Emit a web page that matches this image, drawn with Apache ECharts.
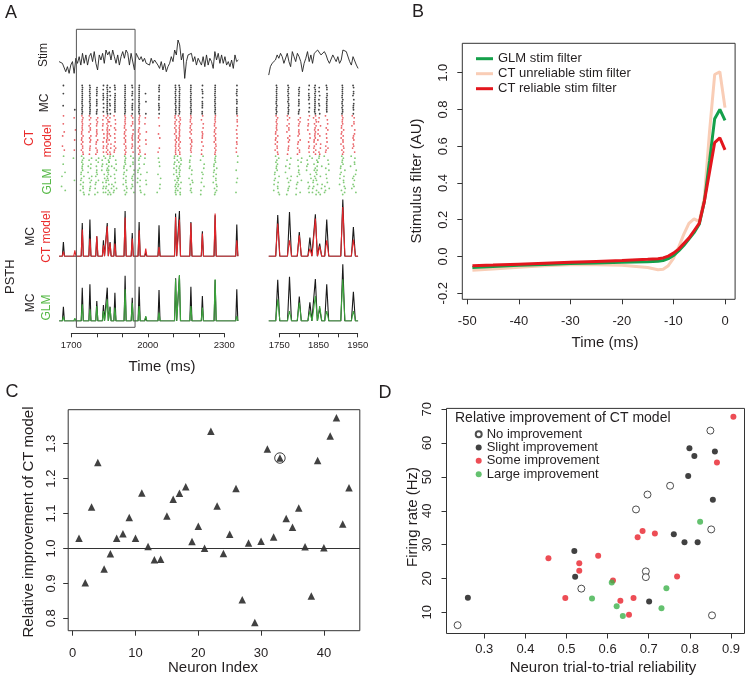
<!DOCTYPE html>
<html><head><meta charset="utf-8">
<script src="https://cdn.jsdelivr.net/npm/echarts@6/dist/echarts.min.js"></script>
<style>html,body{margin:0;padding:0;background:#fff}#c{width:750px;height:681px}</style>
</head><body><div id="c"></div>
<script>
// ================= DATA =================
// Panel A: stimulus trace (arbitrary units), sampled evenly over each window (ms)
const stimLeftSpan = [1652, 2355];
const stimLeft = [0.13,0.25,0,0.13,-0.63,-0.25,-0.75,-0.13,0.13,-0.75,0.38,0,0.5,-0.13,0.75,0,0.63,-0.13,0.5,0.75,0.13,0.88,0,-0.5,0.63,0.25,0.75,0,1.0,0.63,0.88,0.25,1.0,0.5,0,0.63,-0.13,0.5,0.88,0.38,1.0,0.75,-0.13,0.75,0.88,-0.5,0.75,0.63,0.25,0.5,0.13,0.38,0,0.13,-0.13,0.38,0,0.25,0.13,-0.13,-0.38,0.13,-0.5,0,-0.63,-0.25,0,0.5,0.13,1.0,0.63,1.75,1.38,0.25,0.75,-1.13,0.13,0.63,0.5,0.75,0.13,0.5,-0.13,0.38,0.25,-0.13,0.5,-0.25,0.63,-0.13,0.38,0.13,-0.38,0.88,0.25,0.75,0,0.63,0,0.5,-0.13,0.13,-0.25,0.25,-0.38,0.63,0.13,0.25];
const stimRightSpan = [1723, 1951];
const stimRight = [-0.88,-0.25,0,0.13,0.25,0.63,0.38,0.75,0.5,0,-0.13,0.75,0.13,-0.25,0.88,0.5,0.13,0.75,0.5,0.13,-0.63,0,0.38,0.88,0.13,0.63,0,0.75,0.88,1.0,1.13,0.63,0.5,0.88,0.63,0.25,0,0.13,0.63,0.38,0.13,0.5,0,0.25,1.0,0.88,0.88,0.75,0.13,-0.13,0.5,0.38,-0.13,-0.38];

// PSTH peaks: [time (ms), MC rate, CT model rate, GLM rate]
const psthLeftPeaks = [
 [1669,43,14,13],[1714,5,18,8],[1743,100,80,50],[1773,110,53,35],[1800,60,60,45],
 [1826,48,33,30],[1841,100,90,65],[1852,43,40,40],[1871,85,38,40],[1911,136,116,95],
 [1939,70,53,55],[1966,103,78,45],[1992,12,23,15],[2044,93,28,25],[2109,128,118,125],
 [2124,136,110,138],[2169,103,100,45],[2214,75,68,40],[2264,123,128,125],[2349,95,48,15]];
const psthRightPeaks = [
 [1746,124,98,65],[1776,133,48,30],[1801,73,63,55],[1828,56,23,30],[1842,126,113,75],
 [1853,38,30,45],[1871,110,48,30],[1912,170,148,125],[1939,88,50,30]];

// Raster columns: [time (ms), MC reliability, CT reliability, GLM reliability]
const rasterColumns = [
 [1669,0.25,0.3,0.3],[1714,0.05,0.2,0.1],[1743,1,1,1],[1773,1,0.8,0.7],[1800,0.8,0.8,0.7],
 [1826,0.6,0.5,0.5],[1841,1,1,0.9],[1852,0.5,0.5,0.6],[1871,0.9,0.6,0.6],[1911,1,1,1],
 [1939,0.7,0.7,0.7],[1966,1,0.9,0.7],[1992,0.2,0.3,0.3],[2044,0.8,0.3,0.4],[2109,1,1,1],
 [2124,1,1,1],[2169,1,0.9,0.7],[2214,0.7,0.6,0.5],[2264,1,1,1],[2349,0.8,0.5,0.3]];
const spikeJitter = [0.1,-0.6,0.4,-0.2,0.8,-0.9,0.3,-0.4,0.6,0.0,-0.7,0.9,-0.1,0.5,-0.3,0.2,-0.8,0.7,-0.5,0.35];
const trialOrder = [0.12,0.55,0.31,0.83,0.07,0.64,0.42,0.95,0.26,0.71,0.18,0.49,0.88,0.36,0.6,0.03,0.77,0.22,0.92,0.45];
const zoomWindow = [1720, 1950];
const timeTicksLeft = [1700,1800,1900,2000,2100,2200,2300];
const timeLabelsLeft = [1700,2000,2300];
const timeTicksRight = [1750,1800,1850,1900,1950];
const timeLabelsRight = [1750,1850,1950];

// Panel B: stimulus filters
const filterTime = [-49,-45,-40,-35,-30,-25,-20,-15,-13,-12,-11,-10,-9,-8,-7,-6,-5,-4,-3,-2,-1,0];
const glmFilter = [-0.060,-0.055,-0.048,-0.043,-0.038,-0.035,-0.032,-0.029,-0.026,-0.022,-0.012,0.005,0.030,0.060,0.095,0.130,0.175,0.300,0.520,0.750,0.800,0.740];
const ctUnreliableFilter = [-0.075,-0.068,-0.058,-0.050,-0.045,-0.045,-0.048,-0.060,-0.072,-0.070,-0.050,-0.010,0.050,0.120,0.180,0.205,0.190,0.320,0.680,0.990,1.005,0.810];
const ctReliableFilter = [-0.050,-0.047,-0.042,-0.037,-0.032,-0.027,-0.022,-0.015,-0.012,-0.008,0.002,0.018,0.040,0.070,0.100,0.140,0.180,0.300,0.460,0.620,0.645,0.580];
const bTimeTicks = [-50,-40,-30,-20,-10,0];
const bFilterTicks = [-0.2,0.0,0.2,0.4,0.6,0.8,1.0];

// Panel C: relative improvement per neuron (index 1..44)
const neuronImprovement = [1.029,0.902,1.119,1.246,0.941,0.985,1.029,1.042,1.089,1.029,1.159,1.006,0.968,0.969,1.093,1.141,1.158,1.177,1.020,1.064,1.001,1.336,1.122,0.986,1.041,1.172,0.853,1.016,0.788,1.021,1.285,1.033,1.259,1.086,1.061,1.116,1.005,0.864,1.252,1.002,1.322,1.374,1.070,1.174];
const highlightedNeuron = 33;
const cIndexTicks = [0,10,20,30,40];
const cImprovementTicks = [0.8,0.9,1.0,1.1,1.2,1.3];

// Panel D: reliability vs firing rate, by improvement group
const noneReliability = [0.235,0.850,0.752,0.697,0.669,0.852,0.693,0.693,0.536,0.854];
const noneRate        = [6.2,63.7,47.4,44.8,40.4,34.5,22.1,20.4,17.0,9.1];
const slightReliability = [0.799,0.861,0.811,0.796,0.856,0.761,0.787,0.819,0.519,0.521,0.260,0.701];
const slightRate        = [58.5,57.5,56.2,50.3,43.3,33.1,30.7,30.7,28.1,20.5,14.3,13.2];
const someReliability = [0.906,0.866,0.685,0.715,0.673,0.577,0.456,0.531,0.531,0.769,0.613,0.497,0.663,0.631,0.652];
const someRate        = [67.8,54.3,34.0,33.3,32.2,26.7,26.0,24.5,22.3,20.6,19.4,14.2,14.2,13.4,9.3];
const largeReliability = [0.825,0.610,0.743,0.562,0.622,0.731,0.637];
const largeRate        = [36.8,18.8,17.1,14.1,11.8,11.2,8.9];
const dReliabilityTicks = [0.3,0.4,0.5,0.6,0.7,0.8,0.9];
const dRateTicks = [10,20,30,40,50,60,70];

// ================= BUILD =================
const FONT = 'Liberation Sans, Arial, Helvetica, sans-serif';
const TXT = '#231f20';
const RED = '#e3262b', GREEN = '#3ba43b', RRED = '#e2333a', RGREEN = '#62bd55';
const LRED = '#ea2a2a', LGREEN = '#57b947';

const zip = (a, b) => a.map((v, i) => [v, b[i]]);
const spread = (span, vals) => vals.map((v, i) => [span[0] + i * (span[1] - span[0]) / (vals.length - 1), v]);
function psthLine(peaks, col, w, span) {
  const pts = [[span[0], 0]];
  peaks.forEach(p => { pts.push([p[0] - w, 0], [p[0], p[col]], [p[0] + w, 0]); });
  pts.push([span[1], 0]);
  return pts;
}
const rasterGroups = [
  {rows: 15, start: 0, spread: 1.2, col: 1},
  {rows: 20, start: 15, spread: 4, col: 2},
  {rows: 20, start: 35, spread: 8, col: 3}];
function rasterData(g) {
  const out = [];
  rasterColumns.forEach((c, k) => {
    for (let i = 0; i < g.rows; i++) {
      if (trialOrder[(i + 3 * k) % 20] < c[g.col]) {
        out.push([c[0] + spikeJitter[(i * 3 + k * 7) % 20] * g.spread, g.start + i]);
      }
    }
  });
  return out;
}
const rasterMC = rasterData(rasterGroups[0]);
const rasterCT = rasterData(rasterGroups[1]);
const rasterGLM = rasterData(rasterGroups[2]);

const LW = [1650, 2360], RW = [1720, 1955];
const L = {left: 58.55, width: 181.05}, R = {left: 267.54, width: 92.12};
const grids = [
  Object.assign({top: 30, height: 55}, L),        //0 stim L
  Object.assign({top: 30, height: 55}, R),        //1 stim R
  Object.assign({top: 84.5, height: 111}, L),     //2 raster L
  Object.assign({top: 84.5, height: 111}, R),     //3 raster R
  Object.assign({top: 196.3, height: 60}, L),     //4 CT psth L
  Object.assign({top: 196.3, height: 60}, R),     //5 CT psth R
  Object.assign({top: 261, height: 60}, L),       //6 GLM psth L
  Object.assign({top: 261, height: 60}, R),       //7 GLM psth R
  Object.assign({top: 29.3, height: 298}, L),     //8 zoom box
  {left: 71.3, width: 153, top: 332.3, height: 1},   //9 time axis L
  {left: 279.3, width: 78.4, top: 332.3, height: 1}, //10 time axis R
  {left: 462.3, top: 43.3, width: 272.8, height: 256, show: true, borderColor: '#333', borderWidth: 1}, //11 B
  {left: 68.2, top: 409.7, width: 291.6, height: 221, show: true, borderColor: '#333', borderWidth: 1}, //12 C
  {left: 446.5, top: 408.4, width: 298, height: 225.1, show: true, borderColor: '#333', borderWidth: 1}  //13 D
];
const hid = (gi, min, max, inv) => ({type: 'value', gridIndex: gi, min, max, inverse: !!inv, show: false});
const xAxes = [hid(0, LW[0], LW[1]), hid(1, RW[0], RW[1]), hid(2, LW[0], LW[1]), hid(3, RW[0], RW[1]),
  hid(4, LW[0], LW[1]), hid(5, RW[0], RW[1]), hid(6, LW[0], LW[1]), hid(7, RW[0], RW[1]), hid(8, LW[0], LW[1])];
const yAxes = [hid(0, -1.625, 2.5), hid(1, -1.625, 2.5), hid(2, -0.5, 54.5, true), hid(3, -0.5, 54.5, true),
  hid(4, 0, 180), hid(5, 0, 180), hid(6, 0, 180), hid(7, 0, 180), hid(8, 0, 1)];

const lab = (extra) => Object.assign({color: TXT, fontFamily: FONT, fontSize: 13}, extra);
const fmt1 = v => Number(v).toFixed(1);
const fmt0 = v => String(Math.round(v));
function timeAxis(gi, min, max, interval, labels) {
  return {type: 'value', gridIndex: gi, min, max, interval, position: 'bottom',
    axisLine: {show: true, onZero: false, lineStyle: {color: '#333', width: 1}},
    axisTick: {show: true, length: 4, lineStyle: {color: '#333'}},
    axisLabel: lab({customValues: labels, fontSize: 9.5, margin: 7, formatter: fmt0}),
    splitLine: {show: false}};
}
xAxes.push(timeAxis(9, timeTicksLeft[0], timeTicksLeft[timeTicksLeft.length - 1], 100, timeLabelsLeft));
xAxes.push(timeAxis(10, timeTicksRight[0], timeTicksRight[timeTicksRight.length - 1], 50, timeLabelsRight));
yAxes.push(hid(9, 0, 1), hid(10, 0, 1));

function boxAxis(gi, min, max, ticks, isY, margin, formatter) {
  return {type: 'value', gridIndex: gi, min, max, position: isY ? 'left' : 'bottom',
    axisLine: {show: false, onZero: false},
    axisTick: {show: true, length: 5, customValues: ticks, lineStyle: {color: '#333'}},
    axisLabel: lab({customValues: ticks, margin, rotate: isY ? 90 : 0, formatter: formatter || fmt0}),
    splitLine: {show: false}};
}
xAxes.push(boxAxis(11, -50.96, 1.96, bTimeTicks, false, 16));
yAxes.push(boxAxis(11, -0.233, 1.16, bFilterTicks, true, 12, fmt1));
xAxes.push(boxAxis(12, -0.72, 45.72, cIndexTicks, false, 16));
yAxes.push(boxAxis(12, 0.7646, 1.3974, cImprovementTicks, true, 10, fmt1));
xAxes.push(boxAxis(13, 0.208, 0.933, dReliabilityTicks, false, 9, fmt1));
yAxes.push(boxAxis(13, 3.74, 70.26, dRateTicks, true, 13));

const series = [];
const ln = (xi, data, color, width, extra) => Object.assign({type: 'line', xAxisIndex: xi, yAxisIndex: xi, data,
  showSymbol: false, symbol: 'none', clip: true, silent: true, lineStyle: {color, width}, itemStyle: {color}}, extra || {});
series.push(ln(0, spread(stimLeftSpan, stimLeft), '#222', 0.9));
series.push(ln(1, spread(stimRightSpan, stimRight), '#222', 0.9));
[2, 3].forEach(gi => {
  [[rasterMC, '#111'], [rasterCT, RRED], [rasterGLM, RGREEN]].forEach(([d, c]) => {
    series.push({type: 'scatter', xAxisIndex: gi, yAxisIndex: gi, data: d, symbolSize: 1.8, clip: true, silent: true,
      itemStyle: {color: c}});
  });
});
const psthLspan = [stimLeftSpan[0], stimLeftSpan[1]], psthRspan = [stimRightSpan[0], stimRightSpan[1]];
series.push(ln(4, psthLine(psthLeftPeaks, 1, 4, psthLspan), '#1a1a1a', 1.1));
series.push(ln(4, psthLine(psthLeftPeaks, 2, 4.5, psthLspan), RED, 1.1));
series.push(ln(6, psthLine(psthLeftPeaks, 1, 4, psthLspan), '#1a1a1a', 1.1));
series.push(ln(6, psthLine(psthLeftPeaks, 3, 4.5, psthLspan), GREEN, 1.1));
series.push(ln(5, psthLine(psthRightPeaks, 1, 5, psthRspan), '#1a1a1a', 1.1));
series.push(ln(5, psthLine(psthRightPeaks, 2, 5.5, psthRspan), RED, 1.1));
series.push(ln(7, psthLine(psthRightPeaks, 1, 5, psthRspan), '#1a1a1a', 1.1));
series.push(ln(7, psthLine(psthRightPeaks, 3, 5.5, psthRspan), GREEN, 1.1));
series.push(ln(8, [[zoomWindow[0], 0], [zoomWindow[0], 1], [zoomWindow[1], 1], [zoomWindow[1], 0], [zoomWindow[0], 0]], '#555', 1, {clip: false}));

// Panel B
series.push(ln(11, zip(filterTime, ctUnreliableFilter), '#f9cdb6', 3, {name: 'CT unreliable stim filter'}));
series.push(ln(11, zip(filterTime, glmFilter), '#14a04a', 3, {name: 'GLM stim filter'}));
series.push(ln(11, zip(filterTime, ctReliableFilter), '#e3161d', 3, {name: 'CT reliable stim filter'}));

// Panel C
series.push({type: 'scatter', xAxisIndex: 12, yAxisIndex: 12, silent: true, symbol: 'triangle', symbolSize: 7.5,
  itemStyle: {color: '#111'}, data: neuronImprovement.map((v, i) => [i + 1, v]),
  markLine: {silent: true, symbol: 'none', label: {show: false}, lineStyle: {color: '#333', width: 1, type: 'solid'},
    data: [{yAxis: 1.0}]}});
series.push({type: 'scatter', xAxisIndex: 12, yAxisIndex: 12, silent: true, symbol: 'circle', symbolSize: 10.5,
  itemStyle: {color: 'rgba(0,0,0,0)', borderColor: '#111', borderWidth: 1},
  data: [[highlightedNeuron, neuronImprovement[highlightedNeuron - 1]]]});

// Panel D
const dSc = (name, xs, ys, style, size) => ({type: 'scatter', name, xAxisIndex: 13, yAxisIndex: 13, silent: true,
  symbol: 'circle', symbolSize: size, itemStyle: style, data: zip(xs, ys)});
series.push(dSc('No improvement', noneReliability, noneRate, {color: '#fff', borderColor: '#222', borderWidth: 1}, 7));
series.push(dSc('Slight improvement', slightReliability, slightRate, {color: '#111'}, 6));
series.push(dSc('Some improvement', someReliability, someRate, {color: '#e8202a'}, 6));
series.push(dSc('Large improvement', largeReliability, largeRate, {color: '#3db24b'}, 6));

// Text
function txt(text, x, y, o) {
  o = o || {};
  return {type: 'text', x, y, rotation: o.rot ? Math.PI / 2 : 0, silent: true, z: 100,
    style: {text, fill: o.color || TXT, fontSize: o.size || 12, fontFamily: FONT,
      align: o.align || 'center', verticalAlign: 'middle'}};
}
const texts = [
  txt('A', 11, 13, {size: 18}), txt('B', 418, 12, {size: 18}), txt('C', 12, 392, {size: 18}), txt('D', 385, 393, {size: 18}),
  txt('Stim', 44, 55, {rot: 1}), txt('MC', 44.7, 103, {rot: 1}),
  txt('CT', 30, 138, {rot: 1, color: LRED}), txt('model', 47.5, 141, {rot: 1, color: LRED}),
  txt('GLM', 47.5, 181.5, {rot: 1, color: LGREEN}),
  txt('MC', 31, 236.5, {rot: 1}), txt('CT model', 46.7, 236.7, {rot: 1, color: LRED}),
  txt('PSTH', 10, 276.7, {rot: 1, size: 13}),
  txt('MC', 31, 303, {rot: 1}), txt('GLM', 46.7, 307.5, {rot: 1, color: LGREEN}),
  txt('Time (ms)', 162, 367, {size: 15}),
  txt('Stimulus filter (AU)', 416.7, 181, {rot: 1, size: 15}), txt('Time (ms)', 605, 343, {size: 15}),
  txt('Relative improvement of CT model', 29, 522, {rot: 1, size: 15}), txt('Neuron Index', 213, 668, {size: 15}),
  txt('Firing rate (Hz)', 413, 517, {rot: 1, size: 15}), txt('Neuron trial-to-trial reliability', 603, 668, {size: 15}),
  txt('Relative improvement of CT model', 455, 418, {size: 14, align: 'left'})
];

const chart = echarts.init(document.getElementById('c'), null, {renderer: 'canvas'});
chart.setOption({
  animation: false,
  backgroundColor: '#fff',
  textStyle: {fontFamily: FONT},
  grid: grids, xAxis: xAxes, yAxis: yAxes, series,
  legend: [
    {data: ['GLM stim filter', 'CT unreliable stim filter', 'CT reliable stim filter'], orient: 'vertical',
      left: 476, top: 51.2, padding: 0, itemGap: 0, itemWidth: 17, itemHeight: 3, icon: 'rect', selectedMode: false,
      textStyle: {fontSize: 13, lineHeight: 15, color: TXT, fontFamily: FONT}},
    {data: ['No improvement', 'Slight improvement', 'Some improvement', 'Large improvement'], orient: 'vertical',
      left: 474.7, top: 427.6, padding: 0, itemGap: 0, itemWidth: 6, itemHeight: 6, icon: 'circle', selectedMode: false,
      textStyle: {fontSize: 13, lineHeight: 13.3, color: TXT, fontFamily: FONT}}
  ],
  graphic: {elements: texts}
});
</script></body></html>
